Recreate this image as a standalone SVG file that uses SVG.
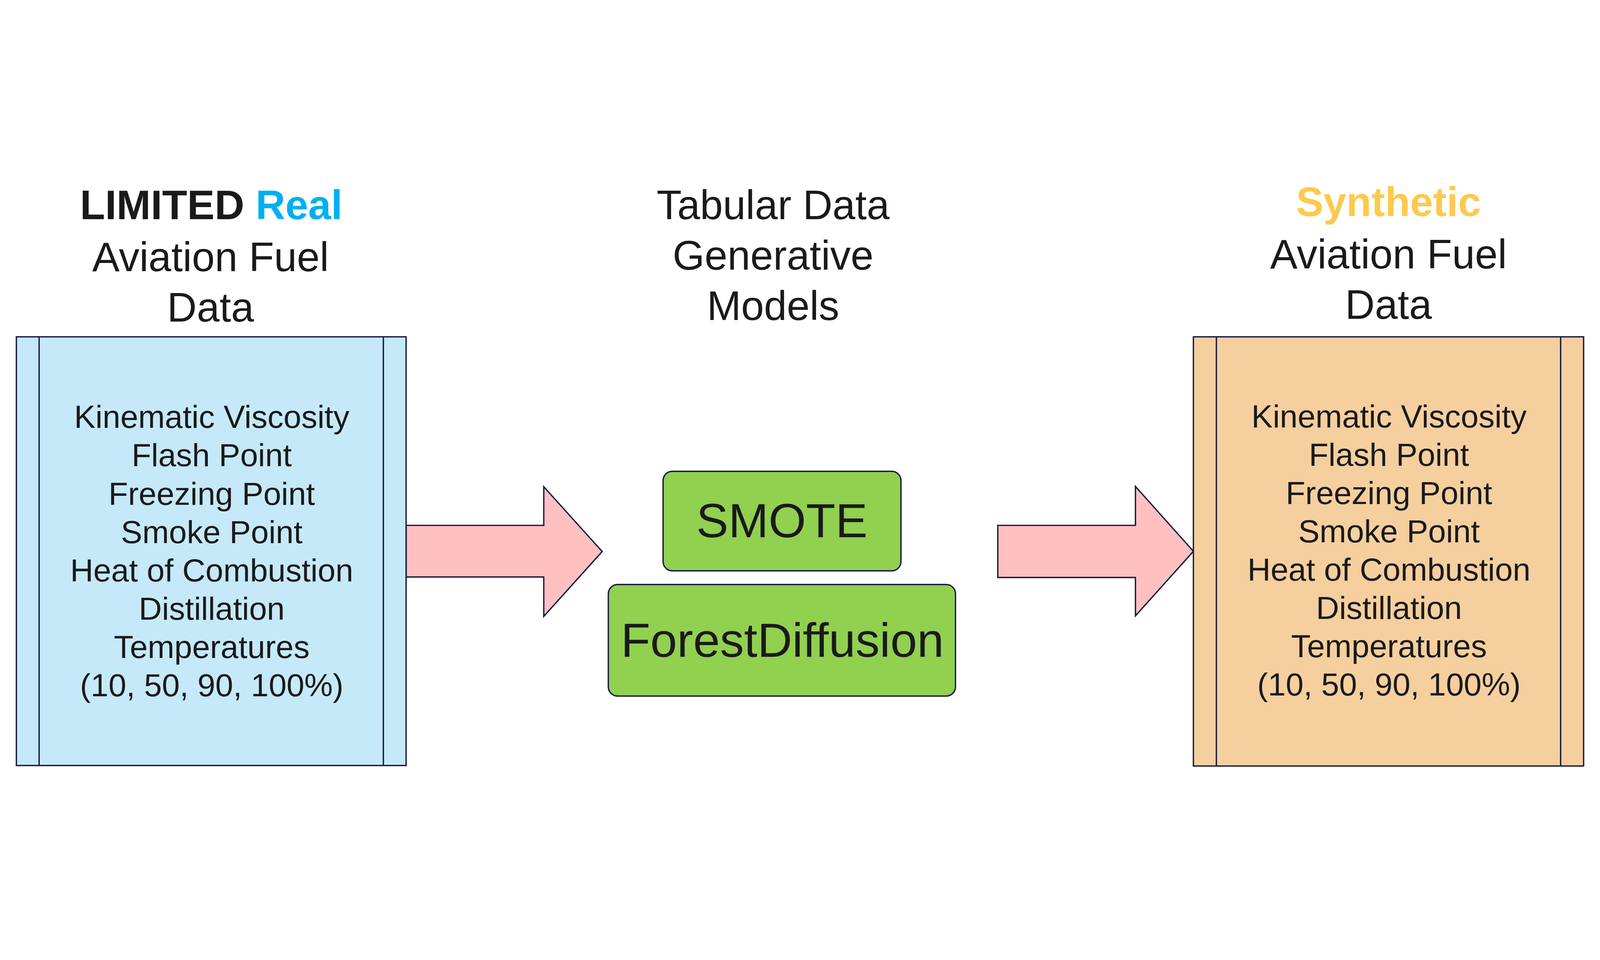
<svg xmlns="http://www.w3.org/2000/svg" width="6544" height="2457" viewBox="0 0 6544 2457">
<defs>
<style>
svg{width:100vw;height:100vh}
.t{font-family:"Liberation Sans",Arial,sans-serif;fill:#1a1a1a;text-anchor:middle}
.title{font-size:168px}
.bold{font-weight:bold}
.real{fill:#00b0f0}
.syn{fill:#fdc94f}
.item{font-size:131px}
.model{font-size:197px}
.edge{stroke:#141a46;stroke-width:5.5;stroke-linejoin:miter}
.arrow{fill:#ffc0c0;stroke:#141a46;stroke-width:5.5;stroke-linejoin:miter}
.green{fill:#92d050;stroke:#141a46;stroke-width:5.5}
</style>
</defs>
<rect x="0" y="0" width="6544" height="2457" fill="#ffffff"/>

<g id="connectors">
<polygon class="arrow" points="1661,1414 2224,1414 2224,1256 2463,1521 2224,1786 2224,1625 1661,1625"/>
<polygon class="arrow" points="4081,1414 4644,1414 4644,1255 4881,1520 4644,1784 4644,1627 4081,1627"/>
</g>

<g id="real-data">
<text class="t title bold" x="864" y="162">LIMITED <tspan class="real">Real</tspan></text>
<text class="t title" x="861" y="375">Aviation Fuel</text>
<text class="t title" x="861" y="581">Data</text>
<rect class="edge" x="67" y="643" width="1594" height="1753" fill="#c5e9f8"/>
<line class="edge" x1="160" y1="643" x2="160" y2="2396"/>
<line class="edge" x1="1568" y1="643" x2="1568" y2="2396"/>
<text class="t item" x="866" y="1016">Kinematic Viscosity</text>
<text class="t item" x="866" y="1172.6">Flash Point</text>
<text class="t item" x="866" y="1329.2">Freezing Point</text>
<text class="t item" x="866" y="1485.8">Smoke Point</text>
<text class="t item" x="866" y="1642.4">Heat of Combustion</text>
<text class="t item" x="866" y="1799">Distillation</text>
<text class="t item" x="866" y="1955.6">Temperatures</text>
<text class="t item" x="866" y="2112.2">(10, 50, 90, 100%)</text>
</g>

<g id="models">
<text class="t title" x="3162" y="162">Tabular Data</text>
<text class="t title" x="3162" y="368">Generative</text>
<text class="t title" x="3162" y="575">Models</text>
</g>

<g id="smote">
<rect class="green" x="2712" y="1193" width="973" height="407" rx="38" ry="38"/>
<text class="t model" x="3198" y="1463">SMOTE</text>
</g>

<g id="forestdiffusion">
<rect class="green" x="2488" y="1656" width="1420" height="456" rx="38" ry="38"/>
<text class="t model" x="3200" y="1951">ForestDiffusion</text>
</g>

<g id="synthetic-data">
<text class="t title bold syn" x="5679" y="150">Synthetic</text>
<text class="t title" x="5679" y="363">Aviation Fuel</text>
<text class="t title" x="5679" y="569">Data</text>
<rect class="edge" x="4881" y="643" width="1596" height="1755" fill="#f5cf9e"/>
<line class="edge" x1="4975" y1="643" x2="4975" y2="2398"/>
<line class="edge" x1="6383" y1="643" x2="6383" y2="2398"/>
<text class="t item" x="5681" y="1013">Kinematic Viscosity</text>
<text class="t item" x="5681" y="1169.6">Flash Point</text>
<text class="t item" x="5681" y="1326.2">Freezing Point</text>
<text class="t item" x="5681" y="1482.8">Smoke Point</text>
<text class="t item" x="5681" y="1639.4">Heat of Combustion</text>
<text class="t item" x="5681" y="1796">Distillation</text>
<text class="t item" x="5681" y="1952.6">Temperatures</text>
<text class="t item" x="5681" y="2109.2">(10, 50, 90, 100%)</text>
</g>
</svg>
